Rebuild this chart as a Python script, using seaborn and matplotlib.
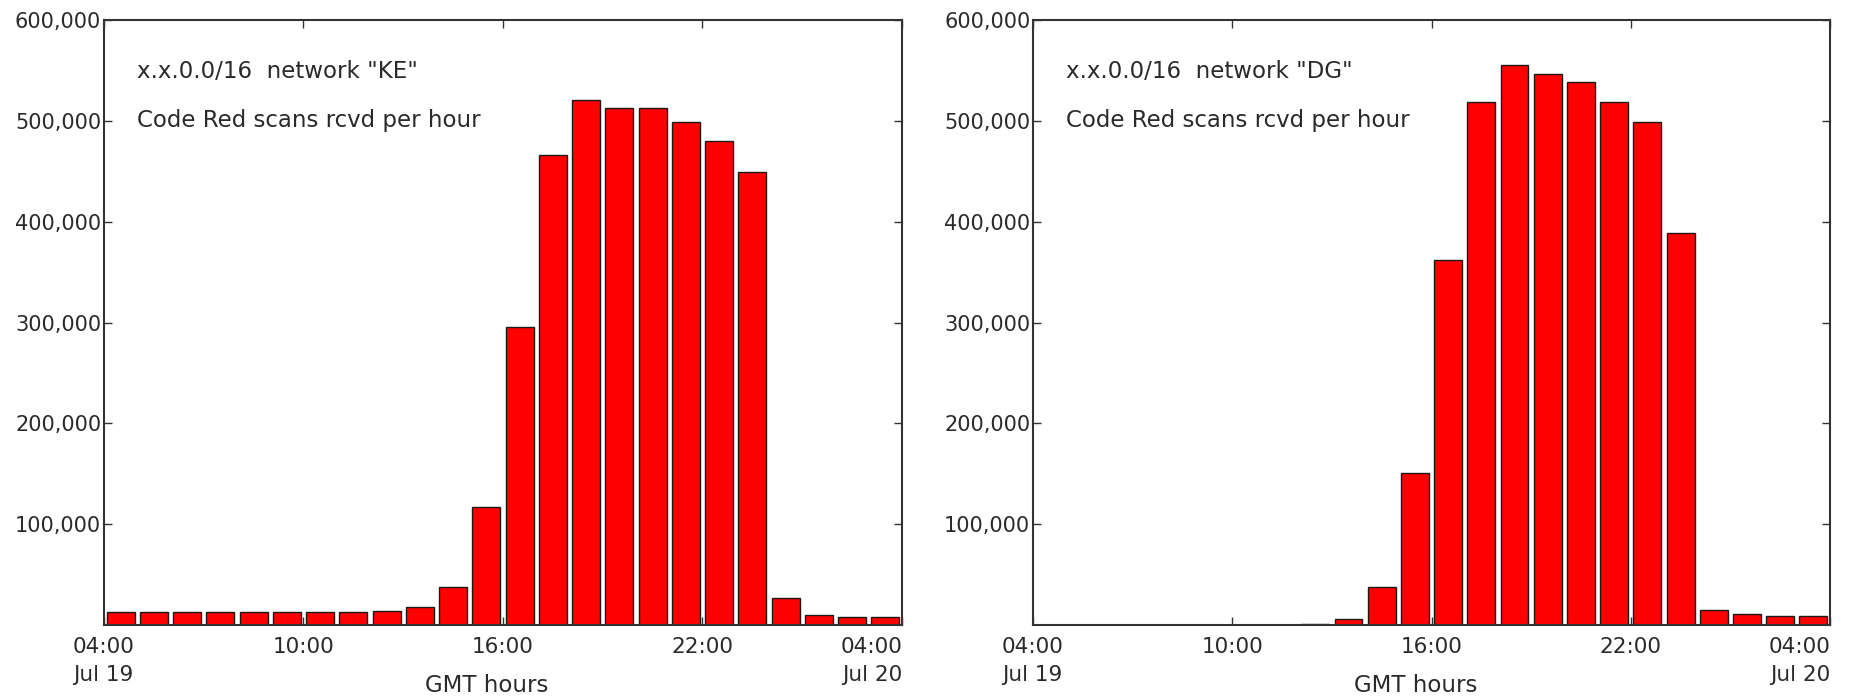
import matplotlib
matplotlib.use("Agg")
import matplotlib.pyplot as plt
import seaborn as sns
import pandas as pd
from matplotlib.ticker import FuncFormatter

# Hourly bins, 04:00 Jul 19 through 03:00 Jul 20 (GMT)
hours = [f"{(4 + i) % 24:02d}:00" for i in range(24)]

# Code Red scans received per hour
scans_ke = [12800, 12800, 13300, 12600, 13200, 13200, 13100, 13100, 14000, 17400,
            37400, 116600, 295400, 466000, 520500, 513000, 513000, 498500,
            479900, 448800, 26600, 10000, 8200, 7900]
scans_dg = [0, 0, 0, 0, 0, 0, 0, 0, 1200, 6200,
            37400, 150400, 362000, 519000, 555000, 546000, 539000, 519000,
            499000, 389000, 15000, 10500, 9200, 8500]

networks = ["KE", "DG"]
series = [scans_ke, scans_dg]

y_ticks = [100000, 200000, 300000, 400000, 500000, 600000]
x_tick_labels = ["04:00\nJul 19", "10:00", "16:00", "22:00", "04:00\nJul 20"]

sns.set_theme(style="white")
plt.rcParams["font.family"] = ["DejaVu Sans"]

fig = plt.figure(figsize=(18.56, 6.97), dpi=100)
axes = [fig.add_axes([0.056, 0.1033, 0.430, 0.868]),
        fig.add_axes([0.5566, 0.1033, 0.4294, 0.868])]

text_color = "#2a2a2a"
for ax, name, values in zip(axes, networks, series):
    df = pd.DataFrame({"hour": hours, "scans": values})
    sns.barplot(data=df, x="hour", y="scans", order=hours, color="#ff0000",
                saturation=1, edgecolor="#1a1a1a", linewidth=1.0, width=0.84, ax=ax)
    ax.set_xlim(-0.5, 23.5)
    ax.set_ylim(0, 600000)
    ax.set_xticks([-0.5, 5.5, 11.5, 17.5, 23.5])
    ax.set_xticklabels(x_tick_labels, fontsize=15.5, color=text_color, linespacing=1.5)
    labels = ax.get_xticklabels()
    labels[0].set_multialignment("left")
    labels[-1].set_multialignment("right")
    labels[-1].set_horizontalalignment("right")
    ax.set_yticks(y_ticks)
    ax.yaxis.set_major_formatter(FuncFormatter(lambda v, p: f"{int(v):,}"))
    ax.tick_params(axis="y", labelsize=15, labelcolor=text_color)
    ax.tick_params(direction="in", length=6, width=1, top=True, right=True,
                   bottom=True, left=True, color="#333333", pad=2)
    ax.tick_params(axis="x", pad=9)
    ax.set_xlabel("GMT hours", fontsize=16.5, color=text_color)
    ax.xaxis.set_label_coords(0.48, -0.1)
    ax.xaxis.label.set_va("center")
    ax.set_ylabel("")
    for sp in ax.spines.values():
        sp.set_visible(True)
        sp.set_color("#333333")
        sp.set_linewidth(1.5)
    ax.text(0.041, 0.915, f'x.x.0.0/16  network "{name}"', transform=ax.transAxes,
            fontsize=16.5, color=text_color, va="center", ha="left")
    ax.text(0.041, 0.834, "Code Red scans rcvd per hour", transform=ax.transAxes,
            fontsize=16.5, color=text_color, va="center", ha="left")

fig.savefig("out.png", dpi=100, facecolor="white")
